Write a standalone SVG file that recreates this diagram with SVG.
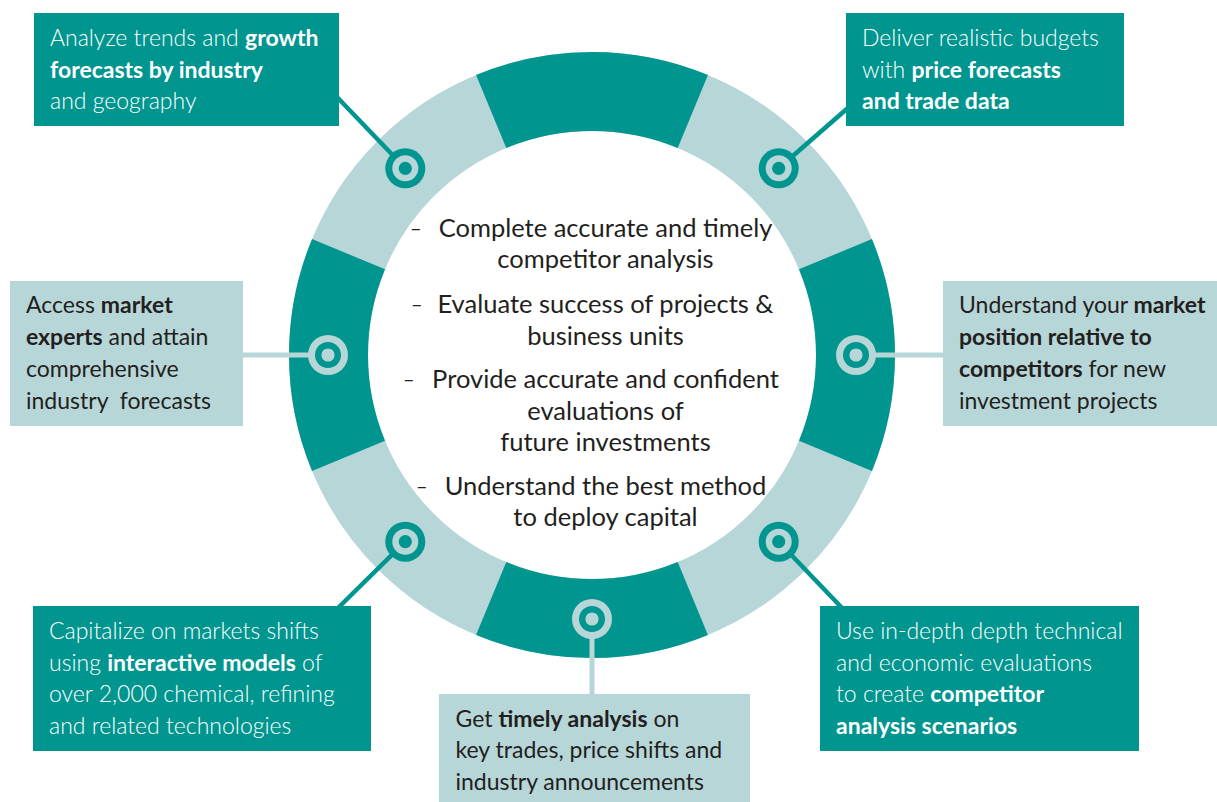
<svg xmlns="http://www.w3.org/2000/svg" width="1217" height="802" viewBox="0 0 1217 802">
<style>
.dark{fill:#00968F}
.light{fill:#B7D6D8}
.bt{font-family:Lato,"Liberation Sans",sans-serif;font-size:23px}
.w{fill:#ffffff;font-weight:300}
.k{fill:#231F20;font-weight:400}
.b{font-weight:700}
.ct{font-family:Lato,"Liberation Sans",sans-serif;font-size:25.5px;fill:#231F20;text-anchor:middle}
.dash{font-family:Lato,"Liberation Sans",sans-serif;font-size:20px;fill:#231F20}
.cd{stroke:#00968F;stroke-width:4.5;fill:none}
.cl{stroke:#B7D6D8;stroke-width:5;fill:none}
</style>
<defs>
<g id="tgtD"><circle r="20" class="dark"/><circle r="13" class="light"/><circle r="6.6" class="dark"/></g>
<g id="tgtL"><circle r="20" class="light"/><circle r="13" class="dark"/><circle r="6.6" class="light"/></g>
</defs>
<rect width="1217" height="802" fill="#ffffff"/>
<g id="ring">
<circle cx="592" cy="355" r="263.5" fill="none" stroke="#B7D6D8" stroke-width="79"/>
<path class="dark" d="M 871.94 239.05 A 303 303 0 0 1 871.94 470.95 L 798.95 440.72 A 224 224 0 0 0 798.95 269.28 Z"/>
<path class="dark" d="M 707.95 634.94 A 303 303 0 0 1 476.05 634.94 L 506.28 561.95 A 224 224 0 0 0 677.72 561.95 Z"/>
<path class="dark" d="M 312.06 470.95 A 303 303 0 0 1 312.06 239.05 L 385.05 269.28 A 224 224 0 0 0 385.05 440.72 Z"/>
<path class="dark" d="M 476.05 75.06 A 303 303 0 0 1 707.95 75.06 L 677.72 148.05 A 224 224 0 0 0 506.28 148.05 Z"/>
</g>
<g id="connectors">
<line class="cd" x1="336" y1="96" x2="405.3" y2="168.3"/>
<line class="cd" x1="849" y1="107" x2="778.7" y2="168.3"/>
<line class="cl" x1="240" y1="355" x2="328" y2="355"/>
<line class="cl" x1="856" y1="355" x2="946" y2="355"/>
<line class="cd" x1="337" y1="609" x2="405.3" y2="541.7"/>
<line class="cd" x1="843" y1="609" x2="778.7" y2="541.7"/>
<line class="cl" x1="592" y1="619" x2="592" y2="697"/>
</g>
<g id="center-text">
<text class="dash" x="410" y="235">–</text>
<text class="ct" x="605.5" y="237">Complete accurate and timely</text>
<text class="ct" x="605.5" y="268">competitor analysis</text>
<text class="dash" x="411" y="311">–</text>
<text class="ct" x="605.5" y="313">Evaluate success of projects &amp;</text>
<text class="ct" x="605.5" y="345">business units</text>
<text class="dash" x="403" y="386">–</text>
<text class="ct" x="605.5" y="388">Provide accurate and confident</text>
<text class="ct" x="605.5" y="420">evaluations of</text>
<text class="ct" x="605.5" y="451">future investments</text>
<text class="dash" x="416" y="493">–</text>
<text class="ct" x="605.5" y="495">Understand the best method</text>
<text class="ct" x="605.5" y="526">to deploy capital</text>
</g>
<g id="node-tl">
<rect class="dark" x="34" y="13" width="305" height="113"/>
<text class="bt w" x="50" y="46">Analyze trends and <tspan class="b">growth</tspan></text>
<text class="bt w b" x="50" y="77.5">forecasts by industry</text>
<text class="bt w" x="50" y="109">and geography</text>
<use href="#tgtD" x="405.3" y="168.3"/>
</g>
<g id="node-tr">
<rect class="dark" x="846" y="13" width="278" height="113"/>
<text class="bt w" x="862" y="46">Deliver realistic budgets</text>
<text class="bt w" x="862" y="77.5">with <tspan class="b">price forecasts</tspan></text>
<text class="bt w b" x="862" y="109">and trade data</text>
<use href="#tgtD" x="778.7" y="168.3"/>
</g>
<g id="node-l">
<rect class="light" x="10" y="281" width="233" height="145"/>
<text class="bt k" x="26" y="313">Access <tspan class="b">market</tspan></text>
<text class="bt k" x="26" y="345"><tspan class="b">experts</tspan> and attain</text>
<text class="bt k" x="26" y="377">comprehensive</text>
<text class="bt k" x="26" y="409" xml:space="preserve" style="white-space:pre">industry  forecasts</text>
<use href="#tgtL" x="328" y="355"/>
</g>
<g id="node-r">
<rect class="light" x="943" y="281" width="274" height="145"/>
<text class="bt k" x="959" y="313">Understand your <tspan class="b">market</tspan></text>
<text class="bt k b" x="959" y="345">position relative to</text>
<text class="bt k" x="959" y="377"><tspan class="b">competitors</tspan> for new</text>
<text class="bt k" x="959" y="409">investment projects</text>
<use href="#tgtL" x="856" y="355"/>
</g>
<g id="node-bl">
<rect class="dark" x="33" y="606" width="338" height="145"/>
<text class="bt w" x="49" y="639">Capitalize on markets shifts</text>
<text class="bt w" x="49" y="671">using <tspan class="b">interactive models</tspan> of</text>
<text class="bt w" x="49" y="702">over 2,000 chemical, refining</text>
<text class="bt w" x="49" y="734">and related technologies</text>
<use href="#tgtD" x="405.3" y="541.7"/>
</g>
<g id="node-b">
<rect class="light" x="439" y="694" width="311" height="108"/>
<text class="bt k" x="455.5" y="726.5">Get <tspan class="b">timely analysis</tspan> on</text>
<text class="bt k" x="455.5" y="758">key trades, price shifts and</text>
<text class="bt k" x="455.5" y="790">industry announcements</text>
<use href="#tgtL" x="592" y="619"/>
</g>
<g id="node-br">
<rect class="dark" x="820" y="606" width="319" height="145"/>
<text class="bt w" x="836" y="639">Use in-depth depth technical</text>
<text class="bt w" x="836" y="671">and economic evaluations</text>
<text class="bt w" x="836" y="702">to create <tspan class="b">competitor</tspan></text>
<text class="bt w b" x="836" y="734">analysis scenarios</text>
<use href="#tgtD" x="778.7" y="541.7"/>
</g>
</svg>
